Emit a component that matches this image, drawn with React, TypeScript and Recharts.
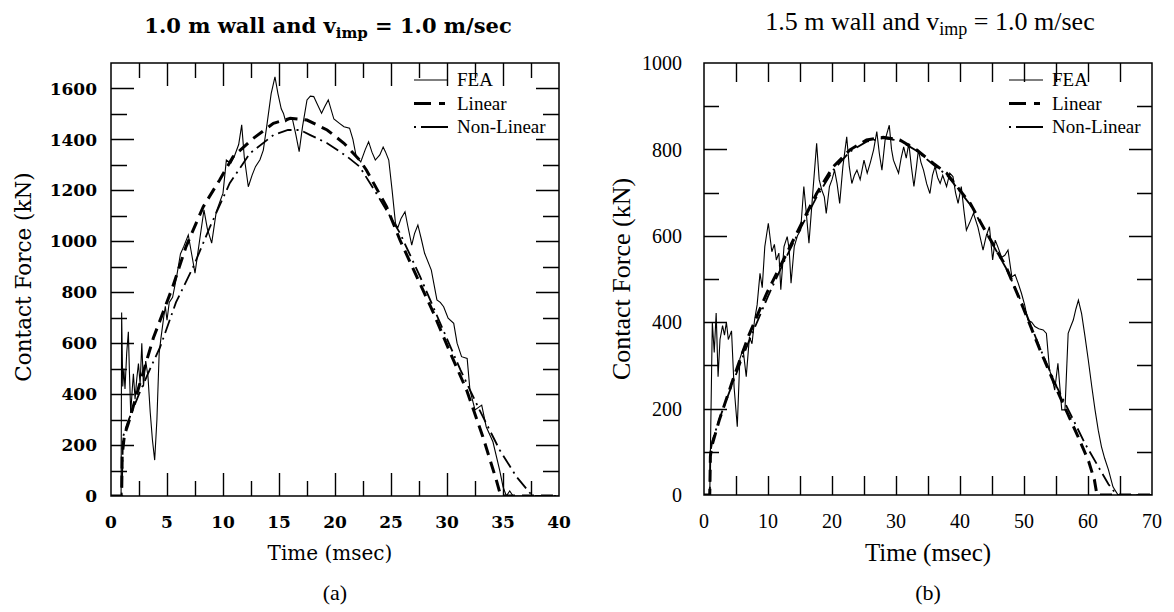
import { Line, LineChart, ReferenceArea, XAxis, YAxis } from "recharts";

type Pt = [number, number];

// (a) 1.0 m wall — time (msec), contact force (kN)
const FEA_A: Pt[] = [
  [0, 0], [0.9, 0], [0.95, 720], [1.05, 430], [1.15, 500], [1.25, 420], [1.4, 560],
  [1.55, 645], [1.65, 480], [1.76, 326], [1.9, 420], [2.0, 480], [2.15, 380], [2.3, 460],
  [2.45, 520], [2.6, 440], [2.75, 600], [2.9, 430], [3.1, 530], [3.3, 470], [3.5, 330],
  [3.7, 220], [3.9, 141], [4.1, 300], [4.3, 560], [4.46, 620], [4.7, 700], [4.85, 745],
  [5.0, 690], [5.2, 760], [5.5, 780], [5.86, 861], [6.2, 950], [6.5, 980], [6.9, 1025],
  [7.2, 950], [7.5, 875], [7.9, 1000], [8.3, 1123], [8.6, 1050], [8.99, 993], [9.4, 1116],
  [10.0, 1189], [10.3, 1319], [10.7, 1307], [11.0, 1332], [11.4, 1380], [11.67, 1457],
  [11.9, 1330], [12.26, 1214], [12.6, 1260], [12.9, 1293], [13.3, 1320], [13.6, 1358],
  [13.9, 1450], [14.3, 1580], [14.64, 1646], [14.9, 1581], [15.2, 1520], [15.4, 1502],
  [15.6, 1470], [15.8, 1476], [16.2, 1480], [16.5, 1420], [16.8, 1352], [17.1, 1450],
  [17.5, 1555], [17.8, 1570], [18.1, 1568], [18.4, 1540], [18.8, 1503], [19.1, 1530],
  [19.4, 1555], [19.9, 1480], [20.4, 1463], [20.8, 1450], [21.3, 1444], [21.6, 1400],
  [21.9, 1332], [22.3, 1312], [22.7, 1360], [23.0, 1391], [23.3, 1350], [23.6, 1319],
  [24.0, 1339], [24.3, 1370], [24.5, 1352], [24.8, 1319], [25.1, 1200], [25.4, 1071],
  [25.6, 1052], [25.9, 1090], [26.25, 1116], [26.5, 1060], [26.85, 985], [27.1, 1030],
  [27.4, 1064], [27.7, 1010], [28.0, 953], [28.6, 887], [29.1, 770], [29.4, 760],
  [29.7, 743], [30.1, 698], [30.6, 678], [30.9, 600], [31.3, 547], [31.8, 540],
  [32.05, 416], [32.5, 338], [33.1, 357], [33.5, 272], [34.1, 213], [34.7, 102],
  [35.0, 37], [35.3, 0], [35.6, 20], [35.9, 0], [40, 0],
];
const LINEAR_A: Pt[] = [
  [0, 0], [0.95, 0], [1.0, 160], [1.2, 240], [1.55, 285], [2.5, 430], [3.78, 620],
  [5.5, 820], [6.7, 979], [8.24, 1136], [9.7, 1241], [10.9, 1332], [12.7, 1404],
  [14.5, 1463], [16.0, 1483], [17.5, 1476], [19.3, 1437], [20.8, 1385], [22.2, 1319],
  [22.8, 1280], [24.6, 1136], [25.8, 1005], [27.3, 861], [28.8, 718], [30.3, 561],
  [31.75, 416], [33.2, 233], [34.4, 63], [34.8, 0], [40, 0],
];
const NONLIN_A: Pt[] = [
  [0, 0], [0.95, 0], [1.07, 232], [1.5, 290], [2.5, 400], [3.5, 500], [4.4, 586],
  [5.8, 760], [7.35, 900], [8.84, 1057], [10.6, 1228], [12.4, 1345], [14.5, 1417],
  [15.8, 1437], [16.9, 1437], [17.8, 1417], [19.3, 1385], [21.1, 1332], [22.2, 1293],
  [23.7, 1188], [25.8, 1032], [27.6, 861], [29.4, 678], [31.2, 495], [32.9, 338],
  [34.7, 181], [36.2, 76], [37.4, 12], [37.8, 0], [40, 0],
];

// (b) 1.5 m wall
const FEA_B: Pt[] = [
  [0, 0], [0.9, 0], [1.1, 200], [1.3, 400], [1.6, 330], [1.9, 421], [2.2, 274], [2.5, 360],
  [2.9, 392], [3.2, 370], [3.5, 400], [3.8, 360], [4.3, 380], [4.7, 250], [5.2, 158],
  [5.6, 315], [6.1, 338], [6.6, 274], [7.1, 366], [7.5, 350], [7.9, 405], [8.3, 440],
  [8.75, 513], [9.1, 480], [9.5, 575], [10.05, 629], [10.6, 563], [11.0, 580], [11.3, 544],
  [11.7, 560], [12.0, 475], [12.5, 575], [13.0, 598], [13.3, 570], [13.6, 490], [14.1, 575],
  [14.6, 600], [15.1, 613], [15.6, 714], [16.0, 650], [16.4, 583], [17.0, 700], [17.6, 814],
  [18.0, 730], [18.4, 706], [18.8, 690], [19.1, 652], [19.6, 714], [20.0, 730], [20.4, 752],
  [20.8, 720], [21.2, 675], [21.7, 760], [22.3, 829], [22.7, 760], [23.1, 721], [23.5, 740],
  [23.9, 752], [24.4, 730], [25.0, 775], [25.5, 745], [26.0, 770], [26.5, 799], [27.0, 841],
  [27.4, 790], [27.8, 752], [28.3, 822], [28.95, 856], [29.3, 800], [29.6, 775], [30.0, 760],
  [30.4, 745], [30.8, 780], [31.2, 806], [31.6, 780], [32.0, 814], [32.4, 760], [32.8, 714],
  [33.2, 760], [33.5, 799], [33.9, 770], [34.3, 752], [34.8, 720], [35.3, 698], [35.7, 740],
  [36.1, 760], [36.5, 735], [36.9, 721], [37.3, 740], [37.9, 714], [38.4, 745], [38.9, 737],
  [39.3, 700], [39.7, 675], [40.2, 714], [40.6, 660], [41.0, 613], [41.5, 630], [42.1, 652],
  [42.8, 620], [43.6, 567], [44.1, 600], [44.6, 621], [45.1, 544], [45.5, 590], [45.9, 575],
  [46.5, 550], [47.0, 555], [47.5, 567], [48.1, 505], [48.6, 510], [49.1, 490], [49.6, 467],
  [50.1, 440], [50.6, 405], [51.2, 400], [51.7, 390], [52.3, 385], [53.0, 382], [53.5, 374],
  [54.0, 289], [54.4, 270], [54.8, 243], [55.3, 305], [55.9, 197], [56.4, 197], [56.9, 374],
  [57.3, 390], [57.7, 405], [58.1, 430], [58.5, 451], [59.0, 420], [59.5, 370], [60.05, 312],
  [60.6, 250], [61.1, 197], [61.6, 150], [62.1, 112], [62.6, 85], [63.2, 58], [63.9, 19],
  [64.7, 0], [70, 0],
];
const LINEAR_B: Pt[] = [
  [0, 0], [0.9, 0], [1.0, 90], [1.2, 112], [2.4, 174], [4.5, 266], [6.9, 366], [9.8, 467],
  [12.4, 544], [15.0, 621], [17.6, 698], [20.2, 760], [22.8, 799], [25.4, 822], [28.0, 828],
  [30.6, 822], [33.2, 799], [35.8, 768], [37.9, 745], [41.6, 675], [43.6, 621], [47.2, 528],
  [49.8, 436], [52.5, 336], [55.6, 228], [58.3, 140], [60.1, 78], [61.0, 35], [61.4, 0],
  [70, 0],
];
const NONLIN_B: Pt[] = [
  [0, 0], [0.9, 0], [1.0, 100], [1.3, 125], [2.5, 180], [4.5, 260], [7.0, 355], [10.0, 460],
  [12.5, 540], [15.0, 615], [17.6, 690], [20.2, 752], [22.8, 795], [25.4, 818], [28.0, 826],
  [30.6, 820], [33.2, 797], [35.8, 765], [38.0, 740], [41.6, 672], [43.6, 620], [47.2, 525],
  [49.8, 440], [52.5, 340], [55.1, 251], [57.5, 180], [59.5, 120], [61.9, 58], [63.2, 25],
  [64.5, 0], [70, 0],
];

const X_TICKS_A = [0, 2.5, 5, 7.5, 10, 12.5, 15, 17.5, 20, 22.5, 25, 27.5, 30, 32.5, 35, 37.5, 40];
const Y_TICKS_A = [0, 100, 200, 300, 400, 500, 600, 700, 800, 900, 1000, 1100, 1200, 1300, 1400, 1500, 1600, 1700];
const X_TICKS_B = [0, 5, 10, 15, 20, 25, 30, 35, 40, 45, 50, 55, 60, 65, 70];
const Y_TICKS_B = [0, 100, 200, 300, 400, 500, 600, 700, 800, 900, 1000];

const SERIES_NAMES = ["FEA", "Linear", "Non-Linear"];
const SERIES_STYLE = [
  { width: 1.1, dash: undefined as string | undefined, key: undefined as string | undefined },
  { width: 3, dash: "12 7", key: "17 8 6 3" },
  { width: 1.8, dash: "14 5 2 5", key: "2 5 27 0" },
];

const CENTURY = '"DejaVu Serif", serif';
const TIMES = '"Liberation Serif", "Times New Roman", serif';
const TICK_COLOR = "#000";

const rows = (pts: Pt[]) => pts.map(([t, f]) => ({ t, f }));

interface Geo {
  width: number;
  left: number;
  right: number;
  top: number;
  bottom: number;
  xDomain: [number, number];
  yDomain: [number, number];
  xTicks: number[];
  yTicks: number[];
  xStep: number;
  yStep: number;
  xMajor: number;
  xMinor: number;
  yMajor: number;
  yMinor: number;
  tickFont: string;
  tickSize: number;
  tickWeight: number;
  xLabelDy: number;
  yLabelGap: number;
}

const isStep = (v: number, step: number) =>
  Math.abs(v / step - Math.round(v / step)) < 1e-6;

function Panel({ g, series }: { g: Geo; series: Pt[][] }) {
  const renderX = (props: any) => {
    const { x, payload } = props;
    const v = payload.value;
    const major = isStep(v, g.xStep);
    const len = major ? g.xMajor : g.xMinor;
    const edge = v === g.xDomain[0] || v === g.xDomain[1];
    const px = Math.round(x) + 0.5;
    return (
      <g>
        {!edge && (
          <path
            d={`M${px},${g.bottom}V${g.bottom - len}M${px},${g.top}V${g.top + len}`}
            stroke={TICK_COLOR}
            strokeWidth={1.4}
            fill="none"
          />
        )}
        {major && (
          <text
            x={x}
            y={g.bottom + g.xLabelDy}
            textAnchor="middle"
            fill="#000"
            style={{ fontFamily: g.tickFont, fontSize: g.tickSize, fontWeight: g.tickWeight }}
          >
            {v}
          </text>
        )}
      </g>
    );
  };

  const renderY = (props: any) => {
    const { y, payload } = props;
    const v = payload.value;
    const major = isStep(v, g.yStep);
    const len = major ? g.yMajor : g.yMinor;
    const edge = v === g.yDomain[0] || v === g.yDomain[1];
    const py = Math.round(y) + 0.5;
    return (
      <g>
        {!edge && (
          <path
            d={`M${g.left},${py}H${g.left + len}M${g.right},${py}H${g.right - len}`}
            stroke={TICK_COLOR}
            strokeWidth={1.4}
            fill="none"
          />
        )}
        {major && (
          <text
            x={g.left - g.yLabelGap}
            y={y}
            dy="0.36em"
            textAnchor="end"
            fill="#000"
            style={{ fontFamily: g.tickFont, fontSize: g.tickSize, fontWeight: g.tickWeight }}
          >
            {v}
          </text>
        )}
      </g>
    );
  };

  return (
    <LineChart
      width={g.width}
      height={612}
      margin={{ top: g.top, right: g.width - g.right, bottom: 612 - g.bottom - 1, left: g.left - 1 }}
    >
      <XAxis
        dataKey="t"
        type="number"
        domain={g.xDomain}
        ticks={g.xTicks}
        interval={0}
        allowDataOverflow
        height={1}
        tickLine={false}
        axisLine={false}
        tick={renderX}
      />
      <YAxis
        type="number"
        domain={g.yDomain}
        ticks={g.yTicks}
        interval={0}
        allowDataOverflow
        width={1}
        tickLine={false}
        axisLine={false}
        tick={renderY}
      />
      {series.map((pts, i) => (
        <Line
          key={SERIES_NAMES[i]}
          name={SERIES_NAMES[i]}
          data={rows(pts)}
          dataKey="f"
          type="linear"
          stroke="#000"
          strokeWidth={SERIES_STYLE[i].width}
          strokeDasharray={SERIES_STYLE[i].dash}
          dot={false}
          activeDot={false}
          isAnimationActive={false}
        />
      ))}
      <ReferenceArea
        x1={g.xDomain[0]}
        x2={g.xDomain[1]}
        y1={g.yDomain[0]}
        y2={g.yDomain[1]}
        fill="none"
        stroke="#000"
        strokeWidth={1.5}
        ifOverflow="visible"
      />
    </LineChart>
  );
}

function LegendKey({ x, y }: { x: number; y: number }) {
  return (
    <g>
      {SERIES_NAMES.map((name, i) => (
        <g key={name}>
          <line
            x1={x}
            x2={x + 34}
            y1={y + i * 23.5}
            y2={y + i * 23.5}
            stroke="#000"
            strokeWidth={SERIES_STYLE[i].width}
            strokeDasharray={SERIES_STYLE[i].key}
          />
          <text x={x + 43} y={y + i * 23.5 + 6} style={{ fontFamily: TIMES, fontSize: 19 }}>
            {name}
          </text>
        </g>
      ))}
    </g>
  );
}

const GEO_A: Geo = {
  width: 580, left: 111, right: 559, top: 63, bottom: 496,
  xDomain: [0, 40], yDomain: [0, 1700], xTicks: X_TICKS_A, yTicks: Y_TICKS_A,
  xStep: 5, yStep: 200, xMajor: 23, xMinor: 15, yMajor: 23, yMinor: 16,
  tickFont: CENTURY, tickSize: 17, tickWeight: 700, xLabelDy: 32, yLabelGap: 14,
};

const GEO_B: Geo = {
  width: 587, left: 117, right: 565, top: 63, bottom: 495,
  xDomain: [0, 70], yDomain: [0, 1000], xTicks: X_TICKS_B, yTicks: Y_TICKS_B,
  xStep: 10, yStep: 200, xMajor: 19, xMinor: 19, yMajor: 23, yMinor: 15,
  tickFont: TIMES, tickSize: 20, tickWeight: 400, xLabelDy: 33, yLabelGap: 22,
};

export default function App() {
  return (
    <div style={{ position: "absolute", left: 0, top: 0, width: 1174, height: 612, background: "#fff" }}>
      <div style={{ position: "absolute", left: 0, top: 0 }}>
        <Panel g={GEO_A} series={[FEA_A, LINEAR_A, NONLIN_A]} />
      </div>
      <div style={{ position: "absolute", left: 587, top: 0 }}>
        <Panel g={GEO_B} series={[FEA_B, LINEAR_B, NONLIN_B]} />
      </div>
      <svg
        width={1174}
        height={612}
        style={{ position: "absolute", left: 0, top: 0, pointerEvents: "none" }}
      >
        <LegendKey x={414} y={80} />
        <LegendKey x={1009} y={80} />
        <text x={328} y={33} textAnchor="middle" style={{ fontFamily: CENTURY, fontSize: 21, fontWeight: 700 }}>
          1.0 m wall and v
          <tspan dy={5} style={{ fontSize: 15 }}>imp</tspan>
          <tspan dy={-5}> = 1.0 m/sec</tspan>
        </text>
        <text x={930} y={30} textAnchor="middle" style={{ fontFamily: TIMES, fontSize: 26 }}>
          1.5 m wall and v
          <tspan dy={5} style={{ fontSize: 18 }}>imp</tspan>
          <tspan dy={-5}> = 1.0 m/sec</tspan>
        </text>
        <text
          x={0}
          y={0}
          transform="translate(23,277) rotate(-90)"
          textAnchor="middle"
          dominantBaseline="central"
          style={{ fontFamily: CENTURY, fontSize: 21.5 }}
        >
          Contact Force (kN)
        </text>
        <text
          x={0}
          y={0}
          transform="translate(621,279) rotate(-90)"
          textAnchor="middle"
          dominantBaseline="central"
          style={{ fontFamily: TIMES, fontSize: 26 }}
        >
          Contact Force (kN)
        </text>
        <text x={330} y={560} textAnchor="middle" style={{ fontFamily: CENTURY, fontSize: 20 }}>
          Time (msec)
        </text>
        <text x={928} y={561} textAnchor="middle" style={{ fontFamily: TIMES, fontSize: 25 }}>
          Time (msec)
        </text>
        <text x={335} y={600} textAnchor="middle" style={{ fontFamily: TIMES, fontSize: 22 }}>
          (a)
        </text>
        <text x={928} y={600} textAnchor="middle" style={{ fontFamily: TIMES, fontSize: 22 }}>
          (b)
        </text>
      </svg>
    </div>
  );
}
